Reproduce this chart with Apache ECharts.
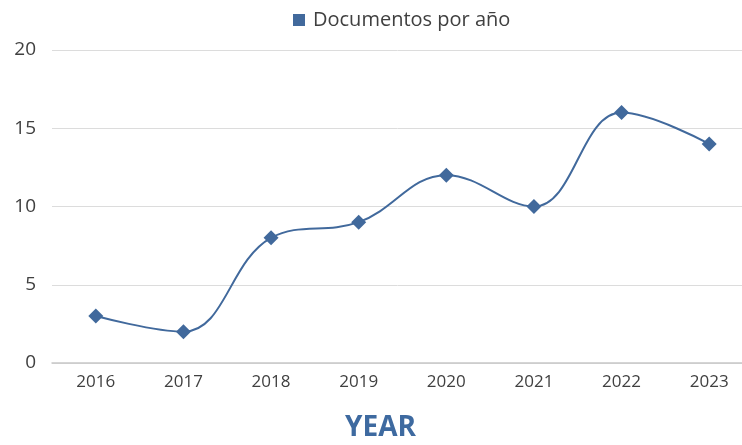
<!DOCTYPE html>
<html>
<head>
<meta charset="utf-8">
<script src="https://cdn.jsdelivr.net/npm/echarts@6/dist/echarts.min.js"></script>
<style>
  html, body { margin: 0; padding: 0; background: #fff; }
  #chart { width: 742px; height: 445px; }
</style>
</head>
<body>
<div id="chart"></div>
<script>
  var years = ['2016', '2017', '2018', '2019', '2020', '2021', '2022', '2023'];
  var docs = [3, 2, 8, 9, 12, 10, 16, 14];
  var seriesName = 'Documentos por año';

  var myChart = echarts.init(document.getElementById('chart'));
  myChart.setOption({
    animation: false,
    textStyle: { fontFamily: 'Open Sans' },
    title: {
      text: 'YEAR',
      left: 345,
      top: 414,
      padding: 0,
      textStyle: { color: '#3e6aa0', fontSize: 28, fontWeight: 'bold', fontFamily: 'Open Sans' }
    },
    legend: {
      top: 5,
      left: 288,
      icon: 'rect',
      itemWidth: 12,
      itemHeight: 12,
      itemGap: 10,
      data: [seriesName],
      textStyle: { color: '#404040', fontSize: 20, padding: [0, 0, 0, 3] }
    },
    grid: { left: 52, width: 701, top: 50, bottom: 82, outerBoundsMode: 'none' },
    xAxis: {
      type: 'category',
      data: years,
      axisTick: { show: false },
      axisLine: { lineStyle: { color: '#c8c8c8', width: 1.5 } },
      axisLabel: { color: '#404040', fontSize: 17, margin: 11 }
    },
    yAxis: {
      type: 'value',
      min: 0,
      max: 20,
      interval: 5,
      axisLabel: { color: '#404040', fontSize: 19, margin: 16 },
      splitLine: { lineStyle: { color: '#dcdcdc' } }
    },
    series: [{
      name: seriesName,
      type: 'line',
      data: docs,
      smooth: 0.4,
      symbol: 'diamond',
      symbolSize: 15,
      lineStyle: { color: '#41699c', width: 2 },
      itemStyle: { color: '#41699c' }
    }]
  });
</script>
</body>
</html>
